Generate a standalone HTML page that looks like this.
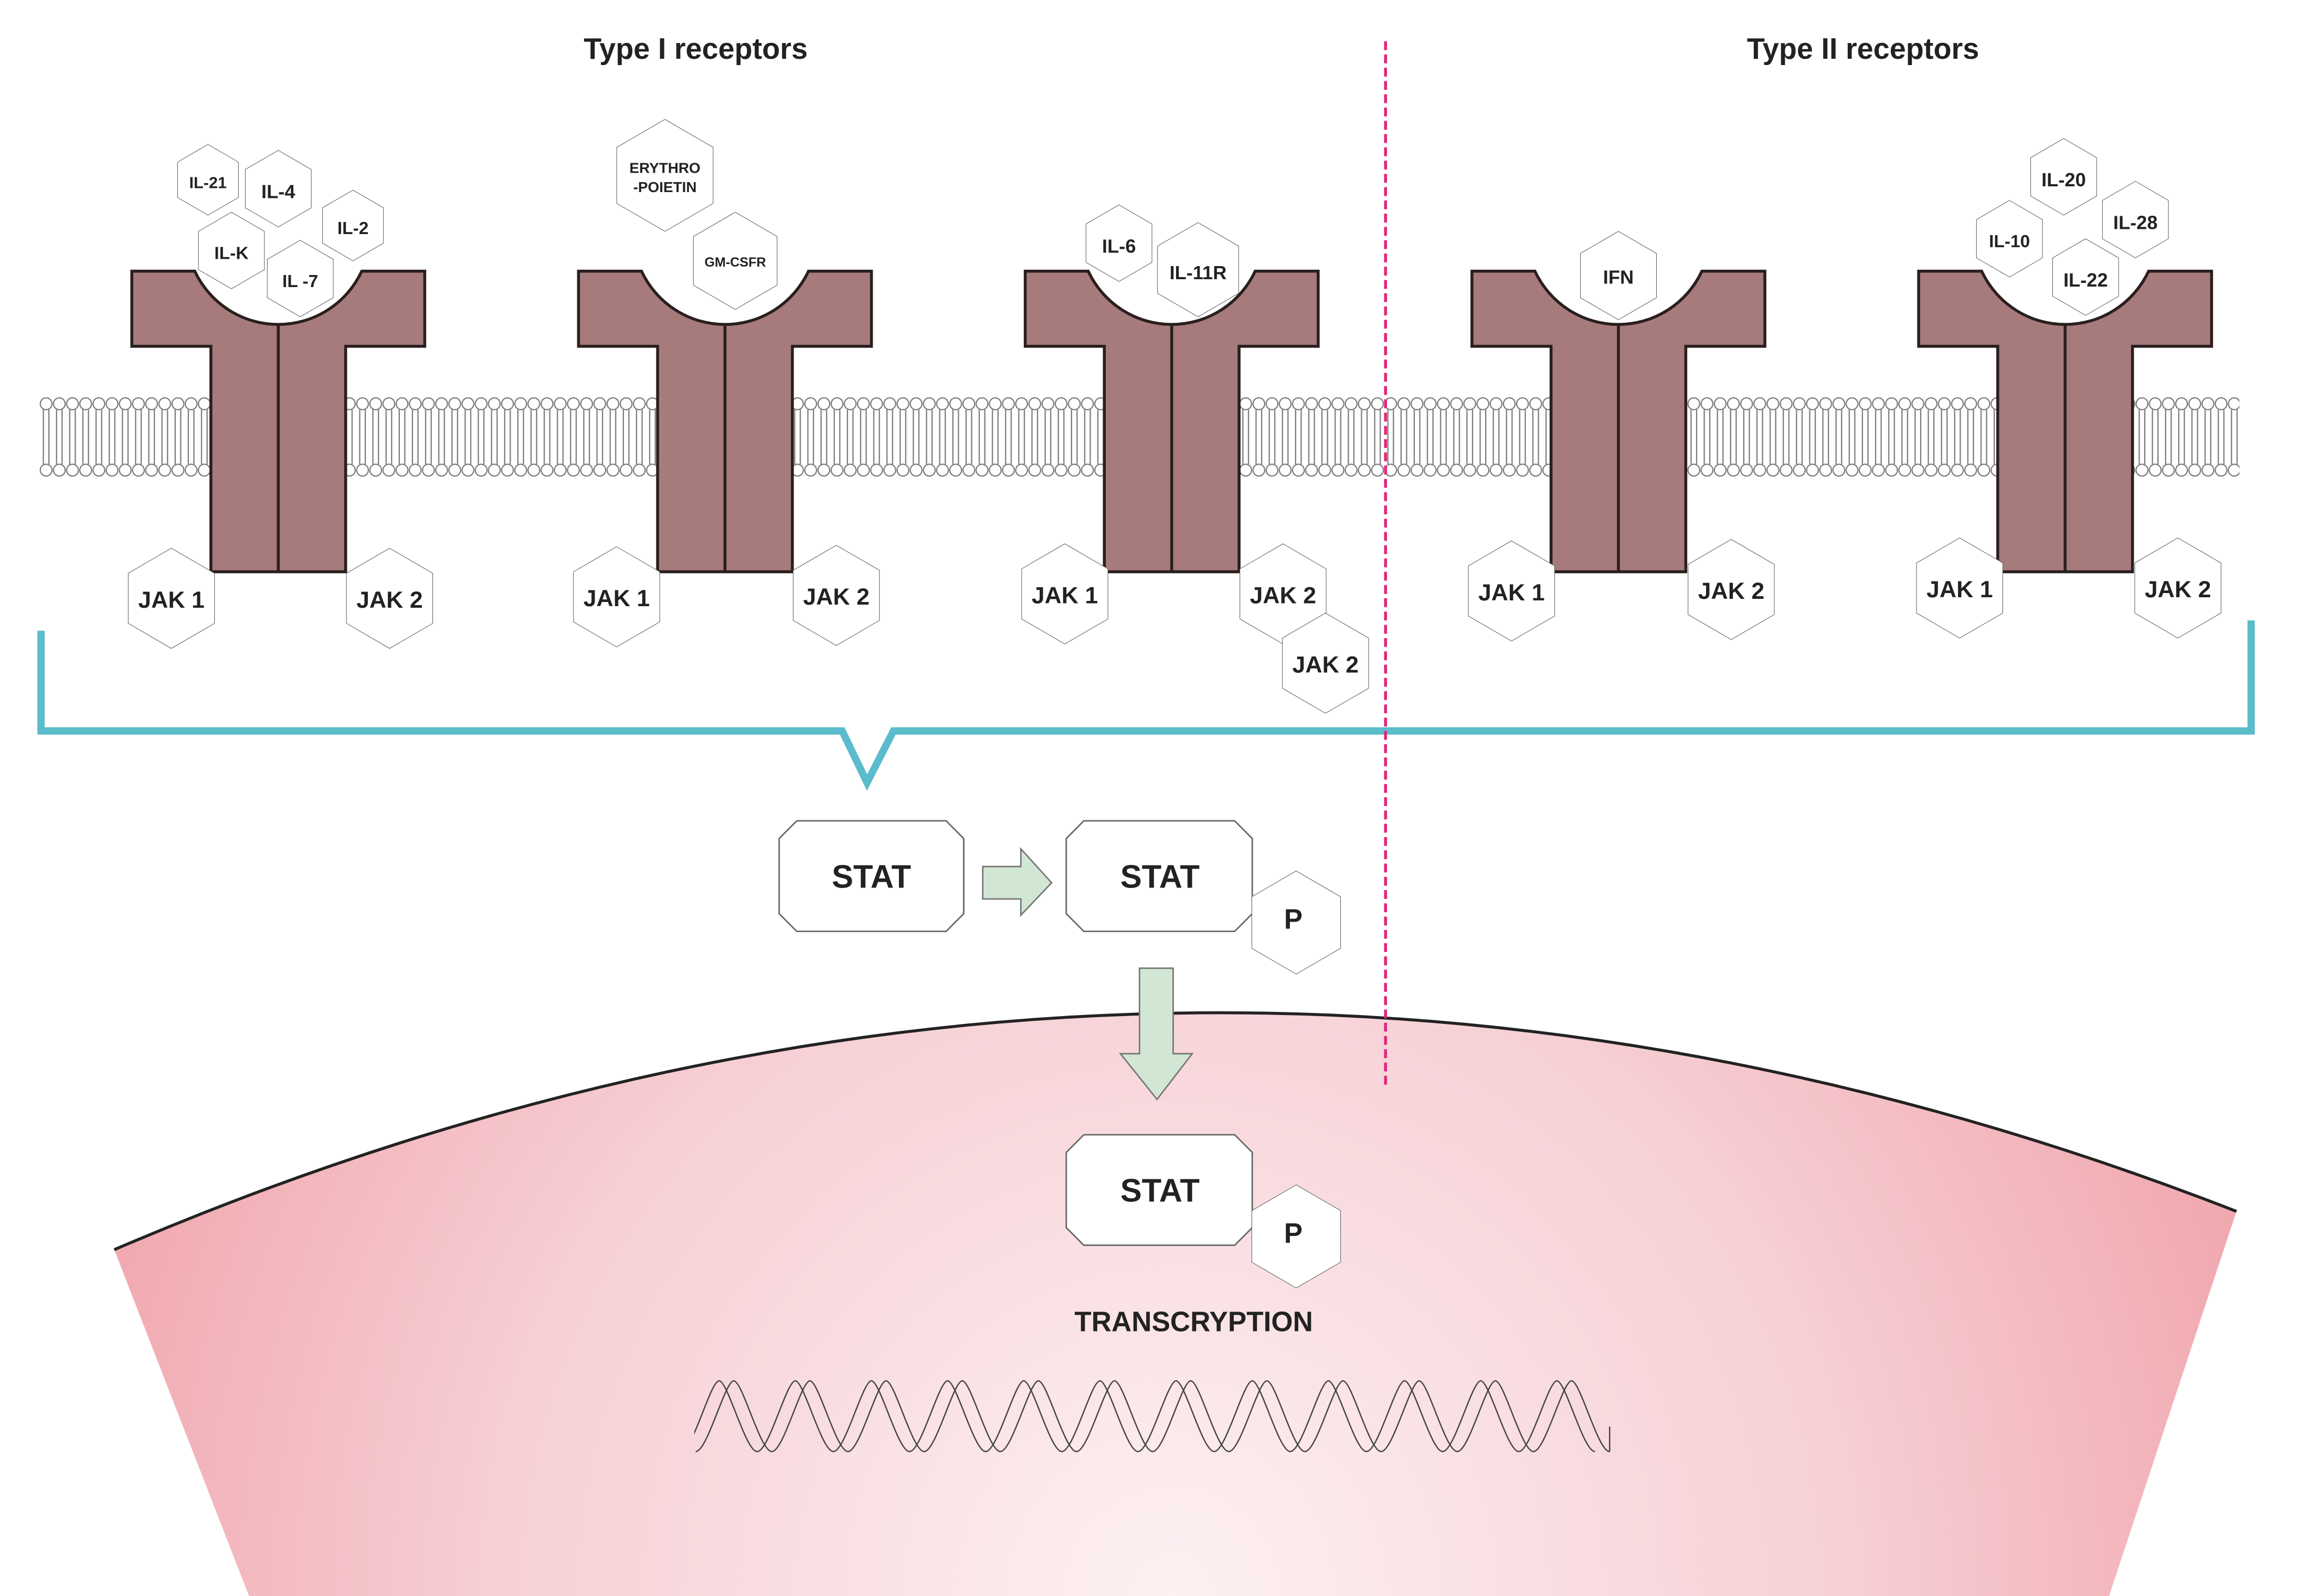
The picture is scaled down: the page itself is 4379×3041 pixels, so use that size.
<!DOCTYPE html>
<html><head><meta charset="utf-8"><style>
html,body{margin:0;padding:0;background:#fff}
svg{display:block}
text{font-family:"Liberation Sans",Arial,sans-serif;font-weight:bold;fill:#222;text-anchor:middle;dominant-baseline:central}
</style></head><body>
<svg width="4379" height="3041" viewBox="0 0 1569 1083" preserveAspectRatio="none" xmlns="http://www.w3.org/2000/svg">
<defs>
<polygon id="h" points="0,-1 0.866,-0.5 0.866,0.5 0,1 -0.866,0.5 -0.866,-0.5" fill="#fff" stroke="#555" stroke-width="1" vector-effect="non-scaling-stroke"/>
<pattern id="lip" x="27" y="269" width="9" height="55" patternUnits="userSpaceOnUse">
<g fill="#fff" stroke="#777" stroke-width="0.8">
<line x1="2.6" y1="9" x2="2.6" y2="46"/><line x1="6.4" y1="9" x2="6.4" y2="46"/>
<circle cx="4.5" cy="5" r="4"/><circle cx="4.5" cy="50" r="4"/>
</g></pattern>
<radialGradient id="nuc" cx="800" cy="1083" r="760" gradientUnits="userSpaceOnUse">
<stop offset="0" stop-color="#fdf1f2"/><stop offset="0.6" stop-color="#f6d0d5"/><stop offset="1" stop-color="#f1a9b0"/></radialGradient>
<clipPath id="dc"><rect x="474" y="900" width="630" height="120"/></clipPath>
<path id="w" d="M0,985 C8,985 20,937 26,937 C32,937 44,985 52,985" fill="none" stroke="#444" stroke-width="0.9"/>
<g id="rec">
<path d="M-100,184 H-57 A63,63 0 0 0 57,184 H100 V235 H46 V388 H-46 V235 H-100 Z" fill="#a77b7b" stroke="#2a1f1f" stroke-width="2"/>
<line x1="0" y1="221" x2="0" y2="388" stroke="#2a1f1f" stroke-width="2"/>
</g>
</defs>

<!-- nucleus -->
<path d="M78,848 Q800,540 1527,822 L1440,1083 L170,1083 Z" fill="url(#nuc)"/>
<path d="M78,848 Q800,540 1527,822" fill="none" stroke="#222" stroke-width="2"/>

<!-- membrane -->
<rect x="27" y="269" width="1502" height="55" fill="url(#lip)"/>

<!-- titles -->
<text x="475" y="33" font-size="20">Type I receptors</text>
<text x="1272" y="33" font-size="20">Type II receptors</text>

<!-- receptors -->
<use href="#rec" x="190"/><use href="#rec" x="495"/><use href="#rec" x="800"/><use href="#rec" x="1105"/><use href="#rec" x="1410"/>

<!-- ligands -->
<g font-size="11">
<use href="#h" transform="translate(142,122) scale(24)"/><text x="142" y="124">IL-21</text>
<use href="#h" transform="translate(190,128) scale(26)"/><text x="190" y="130" font-size="13">IL-4</text>
<use href="#h" transform="translate(241,153) scale(24)"/><text x="241" y="155" font-size="12">IL-2</text>
<use href="#h" transform="translate(158,170) scale(26)"/><text x="158" y="172" font-size="12">IL-K</text>
<use href="#h" transform="translate(205,189) scale(26)"/><text x="205" y="191" font-size="12">IL -7</text>
<use href="#h" transform="translate(454,119) scale(38)"/><text x="454" y="114" font-size="10">ERYTHRO</text><text x="454" y="127" font-size="10">-POIETIN</text>
<use href="#h" transform="translate(502,177) scale(33)"/><text x="502" y="178" font-size="9">GM-CSFR</text>
<use href="#h" transform="translate(764,165) scale(26)"/><text x="764" y="167" font-size="13">IL-6</text>
<use href="#h" transform="translate(818,183) scale(32)"/><text x="818" y="185" font-size="13">IL-11R</text>
<use href="#h" transform="translate(1105,187) scale(30)"/><text x="1105" y="188" font-size="13">IFN</text>
<use href="#h" transform="translate(1409,120) scale(26)"/><text x="1409" y="122" font-size="13">IL-20</text>
<use href="#h" transform="translate(1458,149) scale(26)"/><text x="1458" y="151" font-size="13">IL-28</text>
<use href="#h" transform="translate(1372,162) scale(26)"/><text x="1372" y="164" font-size="12">IL-10</text>
<use href="#h" transform="translate(1424,188) scale(26)"/><text x="1424" y="190" font-size="13">IL-22</text>
</g>

<!-- JAKs -->
<g font-size="16">
<use href="#h" transform="translate(117,406) scale(34)"/><text x="117" y="407">JAK 1</text>
<use href="#h" transform="translate(266,406) scale(34)"/><text x="266" y="407">JAK 2</text>
<use href="#h" transform="translate(421,405) scale(34)"/><text x="421" y="406">JAK 1</text>
<use href="#h" transform="translate(571,404) scale(34)"/><text x="571" y="405">JAK 2</text>
<use href="#h" transform="translate(727,403) scale(34)"/><text x="727" y="404">JAK 1</text>
<use href="#h" transform="translate(876,403) scale(34)"/><text x="876" y="404">JAK 2</text>
<use href="#h" transform="translate(905,450) scale(34)"/><text x="905" y="451">JAK 2</text>
<use href="#h" transform="translate(1032,401) scale(34)"/><text x="1032" y="402">JAK 1</text>
<use href="#h" transform="translate(1182,400) scale(34)"/><text x="1182" y="401">JAK 2</text>
<use href="#h" transform="translate(1338,399) scale(34)"/><text x="1338" y="400">JAK 1</text>
<use href="#h" transform="translate(1487,399) scale(34)"/><text x="1487" y="400">JAK 2</text>
</g>

<!-- bracket -->
<path d="M28,428 V496 H575 L592,531 L610,496 H1537 V421" fill="none" stroke="#5bbccc" stroke-width="5"/>

<!-- dashed line -->
<line x1="946" y1="28" x2="946" y2="736" stroke="#e0287a" stroke-width="2" stroke-dasharray="6,3"/>

<!-- STATs -->
<g fill="#fff" stroke="#666" stroke-width="1">
<polygon points="544,557 646,557 658,569 658,620 646,632 544,632 532,620 532,569"/>
<polygon points="740,557 843,557 855,569 855,620 843,632 740,632 728,620 728,569"/>
<polygon points="740,770 843,770 855,782 855,833 843,845 740,845 728,833 728,782"/>
</g>
<text x="595" y="595" font-size="22">STAT</text>
<text x="792" y="595" font-size="22">STAT</text>
<text x="792" y="808" font-size="22">STAT</text>
<use href="#h" transform="translate(885,626) scale(35)"/><text x="883" y="624" font-size="19">P</text>
<use href="#h" transform="translate(885,839) scale(35)"/><text x="883" y="837" font-size="19">P</text>

<!-- arrows -->
<g fill="#d2e6d4" stroke="#777" stroke-width="1">
<polygon points="671,588 697,588 697,576 718,599 697,621 697,610 671,610"/>
<polygon points="778,657 801,657 801,715 814,715 790,746 765,715 778,715"/>
</g>

<text x="815" y="897" font-size="19">TRANSCRYPTION</text>

<!-- DNA -->
<g clip-path="url(#dc)">
<use href="#w" x="465"/><use href="#w" x="517"/><use href="#w" x="569"/><use href="#w" x="621"/><use href="#w" x="673"/><use href="#w" x="725"/><use href="#w" x="777"/><use href="#w" x="829"/><use href="#w" x="881"/><use href="#w" x="933"/><use href="#w" x="985"/><use href="#w" x="1037"/>
<use href="#w" x="475"/><use href="#w" x="527"/><use href="#w" x="579"/><use href="#w" x="631"/><use href="#w" x="683"/><use href="#w" x="735"/><use href="#w" x="787"/><use href="#w" x="839"/><use href="#w" x="891"/><use href="#w" x="943"/><use href="#w" x="995"/><use href="#w" x="1047"/>
</g>
<line x1="1099" y1="968" x2="1099" y2="985" stroke="#444" stroke-width="0.9"/>
</svg>
</body></html>
